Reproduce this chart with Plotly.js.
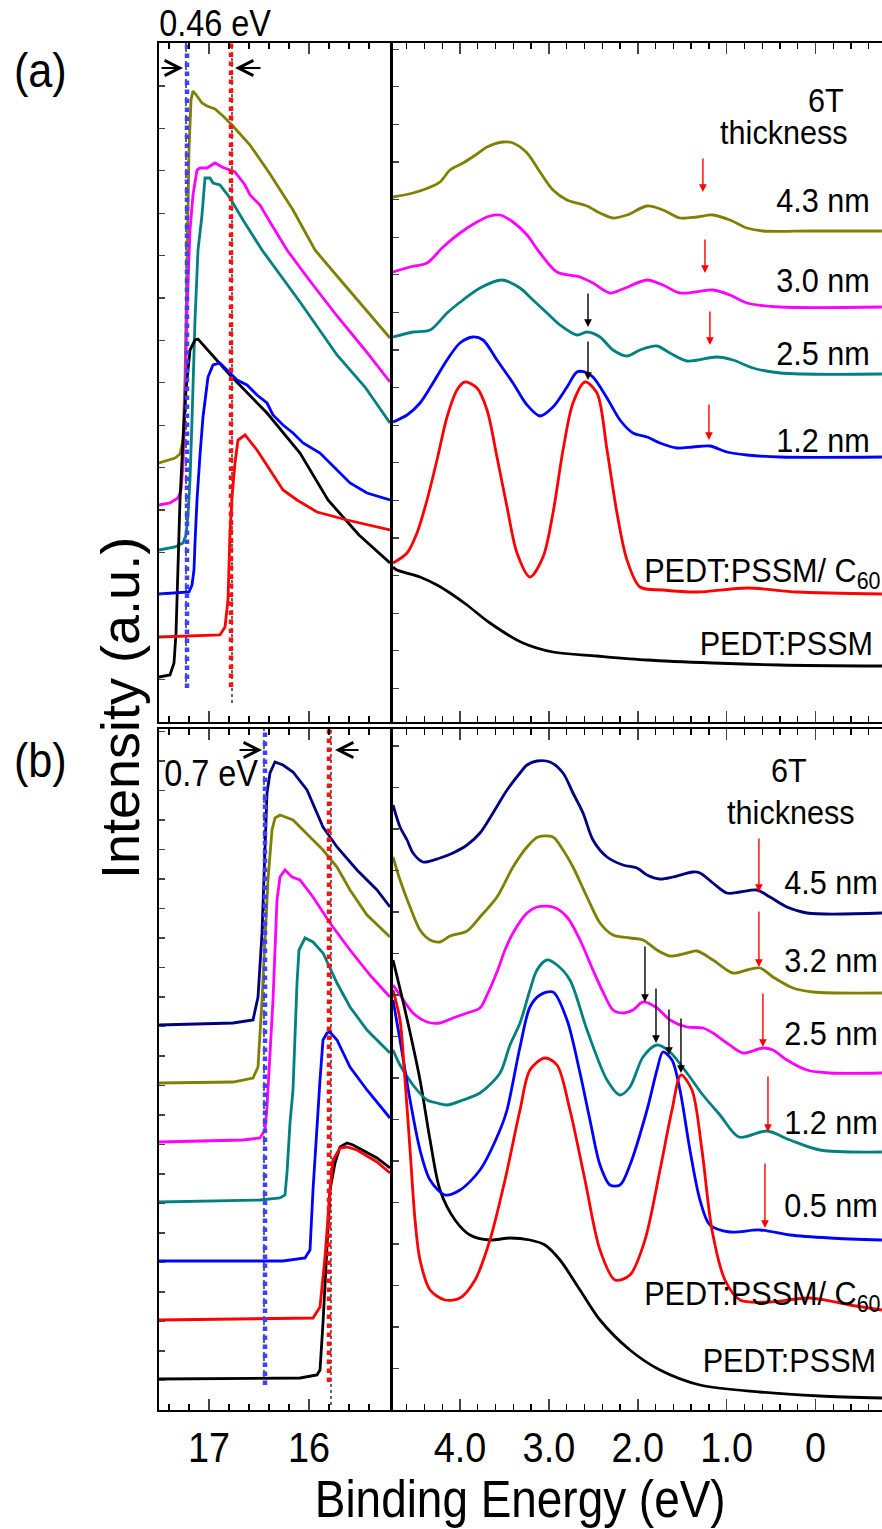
<!DOCTYPE html>
<html><head><meta charset="utf-8">
<script src="https://cdn.plot.ly/plotly-3.0.1.min.js"></script>
<style>html,body{margin:0;padding:0;background:#fff}#g{width:882px;height:1529px}</style>
</head><body><div id="g"></div>
<script>
// ---------- DATA: [binding energy (eV), intensity (a.u.)] ----------
// (a) secondary electron cut-off
const a_seco_olive = [[17.5,259],[17.34,264],[17.29,268],[17.26,282],[17.24,342],[17.22,472],[17.2,572],[17.18,622],[17.16,631],[17.12,626],[17.07,619],[17.02,616],[16.94,613],[16.86,606],[16.77,597],[16.59,577],[16.39,548],[16.16,512],[15.94,472],[15.72,446],[15.49,419],[15.19,384]];
const a_seco_magenta = [[17.5,217],[17.39,219],[17.31,224],[17.28,232],[17.26,257],[17.24,322],[17.22,412],[17.19,492],[17.16,527],[17.12,552],[17.09,554],[17.02,554],[16.94,559],[16.87,555],[16.74,550],[16.64,537],[16.59,527],[16.49,517],[16.39,500],[16.22,472],[15.99,441],[15.72,406],[15.44,372],[15.19,340]];
const a_seco_teal = [[17.5,172],[17.34,175],[17.26,179],[17.23,187],[17.21,207],[17.19,242],[17.17,302],[17.14,402],[17.11,472],[17.07,507],[17.04,544],[16.99,544],[16.96,539],[16.89,537],[16.79,524],[16.66,502],[16.47,472],[16.09,420],[15.72,367],[15.44,335],[15.19,299]];
const a_seco_blue = [[17.5,128],[17.34,129],[17.2,130],[17.17,137],[17.15,152],[17.14,179],[17.12,222],[17.09,267],[17.06,305],[17.01,345],[16.96,357],[16.89,359],[16.82,352],[16.72,342],[16.62,337],[16.52,327],[16.42,319],[16.36,307],[16.26,297],[16.16,289],[16.06,279],[15.89,269],[15.72,252],[15.59,239],[15.42,229],[15.26,224],[15.19,222]];
const a_seco_black = [[17.5,45],[17.39,47],[17.35,59],[17.33,89],[17.31,155],[17.29,222],[17.26,282],[17.23,332],[17.19,372],[17.14,382],[17.11,383],[16.79,347],[16.42,309],[16.09,269],[15.81,222],[15.5,187],[15.19,159]];
const a_seco_red = [[17.5,85],[17.09,86],[16.89,87],[16.84,95],[16.81,122],[16.79,189],[16.77,225],[16.74,259],[16.71,282],[16.64,287],[16.52,272],[16.39,252],[16.26,232],[16.12,222],[15.92,210],[15.62,202],[15.19,192]];
// (a) valence band
const a_vb_olive = [[4.754,525],[4.529,529],[4.36,534],[4.225,540],[4.112,552],[3.966,559],[3.809,568],[3.696,575],[3.516,580],[3.404,579],[3.246,569],[3.1,550],[2.954,532],[2.796,522],[2.571,516],[2.425,509],[2.279,504],[2.121,507],[1.896,516],[1.717,512],[1.525,504],[1.334,505],[1.154,507],[0.963,502],[0.772,494],[0.592,491],[0.029,491],[-0.747,491]];
const a_vb_magenta = [[4.754,450],[4.562,455],[4.371,459],[4.191,475],[4.0,489],[3.809,500],[3.663,506],[3.55,507],[3.404,500],[3.246,487],[3.1,469],[2.909,450],[2.65,445],[2.504,439],[2.313,429],[2.166,433],[1.896,442],[1.717,437],[1.525,429],[1.154,432],[0.963,427],[0.772,419],[0.4,415],[-0.747,415]];
const a_vb_teal = [[4.754,385],[4.529,390],[4.337,392],[4.146,409],[3.966,422],[3.775,434],[3.528,442],[3.325,434],[3.179,422],[3.021,409],[2.875,397],[2.684,387],[2.571,390],[2.425,385],[2.279,372],[2.121,366],[1.975,372],[1.784,376],[1.638,369],[1.447,361],[1.109,365],[0.929,362],[0.704,354],[0.4,349],[-0.747,348]];
const a_vb_blue = [[4.754,300],[4.596,307],[4.45,319],[4.304,339],[4.146,362],[4.0,379],[3.854,385],[3.741,382],[3.584,362],[3.404,339],[3.246,317],[3.1,306],[2.954,315],[2.796,335],[2.684,350],[2.594,350],[2.504,345],[2.346,324],[2.2,302],[2.054,289],[1.896,285],[1.75,279],[1.559,274],[1.379,275],[1.188,276],[0.997,270],[0.772,267],[0.4,265],[-0.747,265]];
const a_vb_red = [[4.754,159],[4.596,169],[4.484,189],[4.371,222],[4.259,262],[4.146,305],[4.034,332],[3.944,340],[3.809,334],[3.696,312],[3.584,265],[3.471,215],[3.359,169],[3.213,145],[3.066,165],[2.954,209],[2.841,272],[2.729,319],[2.594,340],[2.459,329],[2.346,272],[2.234,209],[2.121,162],[1.975,135],[1.717,132],[1.334,130],[0.772,134],[0.209,130],[-0.747,128]];
const a_vb_black = [[4.754,155],[4.709,152],[4.45,145],[4.259,137],[4.112,129],[3.921,117],[3.663,99],[3.291,79],[2.954,70],[2.459,66],[1.896,62],[1.154,59],[0.4,57],[-0.747,56]];
// (b) secondary electron cut-off
const b_seco_navy = [[17.5,385],[16.76,387],[16.56,390],[16.51,413],[16.47,477],[16.45,530],[16.42,617],[16.39,637],[16.34,648],[16.26,645],[16.16,638],[16.02,620],[15.86,583],[15.72,563],[15.52,540],[15.32,520],[15.19,503]];
const b_seco_olive = [[17.5,327],[16.76,328],[16.56,332],[16.51,343],[16.47,410],[16.44,477],[16.41,530],[16.37,580],[16.34,592],[16.29,595],[16.24,593],[16.16,590],[15.99,573],[15.86,560],[15.72,543],[15.59,520],[15.42,495],[15.19,473]];
const b_seco_magenta = [[17.5,268],[16.66,270],[16.49,272],[16.44,280],[16.42,303],[16.39,360],[16.36,410],[16.32,510],[16.29,533],[16.24,540],[16.17,533],[16.09,530],[15.96,513],[15.79,487],[15.59,460],[15.39,435],[15.19,413]];
const b_seco_teal = [[17.5,208],[16.49,210],[16.29,212],[16.24,215],[16.22,237],[16.19,287],[16.16,320],[16.12,427],[16.1,460],[16.04,472],[15.96,468],[15.86,457],[15.72,427],[15.59,403],[15.42,380],[15.19,357]];
const b_seco_blue = [[17.5,149],[16.26,149],[16.04,152],[15.99,160],[15.96,220],[15.92,290],[15.89,330],[15.86,370],[15.82,377],[15.79,378],[15.72,370],[15.59,343],[15.42,320],[15.19,292]];
const b_seco_red = [[17.5,90],[15.96,92],[15.89,103],[15.84,153],[15.79,220],[15.76,250],[15.69,262],[15.62,263],[15.52,260],[15.32,248],[15.19,237]];
const b_seco_black = [[17.5,31],[16.09,32],[15.92,35],[15.89,40],[15.86,87],[15.82,170],[15.79,220],[15.74,247],[15.69,263],[15.62,267],[15.56,265],[15.32,252],[15.19,242]];
// (b) valence band
const b_vb_navy = [[4.754,605],[4.675,583],[4.596,570],[4.529,557],[4.416,548],[4.225,552],[4.079,557],[3.921,565],[3.775,577],[3.629,597],[3.471,620],[3.325,637],[3.246,645],[3.134,649],[2.988,648],[2.841,637],[2.729,617],[2.616,597],[2.504,570],[2.346,553],[2.166,545],[2.009,542],[1.896,535],[1.75,531],[1.604,533],[1.379,538],[1.3,537],[1.154,527],[0.997,517],[0.85,518],[0.659,520],[0.513,513],[0.322,503],[0.097,497],[-0.747,497]];
const b_vb_olive = [[4.754,553],[4.675,530],[4.562,503],[4.45,480],[4.337,470],[4.225,468],[4.112,474],[3.921,479],[3.775,493],[3.584,513],[3.404,543],[3.246,563],[3.123,573],[2.954,573],[2.841,560],[2.729,543],[2.571,513],[2.425,487],[2.279,475],[2.088,472],[1.941,470],[1.784,460],[1.638,454],[1.447,457],[1.334,459],[1.154,450],[0.929,437],[0.772,440],[0.625,442],[0.479,433],[0.254,422],[0.029,418],[-0.747,417]];
const b_vb_magenta = [[4.754,425],[4.675,415],[4.529,397],[4.371,388],[4.225,387],[4.079,392],[3.921,397],[3.775,402],[3.696,415],[3.584,438],[3.494,460],[3.404,477],[3.246,497],[3.134,503],[2.954,503],[2.796,493],[2.65,470],[2.504,440],[2.391,418],[2.279,400],[2.166,397],[2.054,400],[1.941,408],[1.784,402],[1.638,390],[1.447,383],[1.267,382],[1.154,377],[0.997,367],[0.817,357],[0.592,362],[0.479,360],[0.322,350],[0.097,340],[-0.162,337],[-0.747,337]];
const b_vb_teal = [[4.754,360],[4.675,345],[4.529,325],[4.371,310],[4.259,307],[4.146,305],[3.966,310],[3.775,317],[3.55,337],[3.438,365],[3.325,387],[3.213,420],[3.134,440],[3.021,450],[2.909,445],[2.763,430],[2.571,380],[2.346,330],[2.2,315],[2.088,323],[1.941,353],[1.784,365],[1.638,358],[1.447,337],[1.267,315],[1.075,295],[0.862,273],[0.547,279],[0.288,270],[-0.05,260],[-0.747,258]];
const b_vb_blue = [[4.754,410],[4.675,370],[4.562,310],[4.45,260],[4.337,230],[4.169,215],[4.0,220],[3.775,240],[3.55,280],[3.471,300],[3.325,363],[3.213,403],[3.1,415],[2.954,418],[2.796,390],[2.65,337],[2.538,290],[2.425,245],[2.313,225],[2.2,225],[2.088,245],[1.896,300],[1.784,340],[1.717,358],[1.615,350],[1.525,320],[1.413,260],[1.3,210],[1.188,185],[0.963,178],[0.625,180],[0.288,175],[-0.162,172],[-0.747,170]];
const b_vb_red = [[4.754,420],[4.675,390],[4.619,330],[4.562,260],[4.506,190],[4.45,150],[4.337,120],[4.169,110],[4.0,112],[3.831,130],[3.663,170],[3.494,230],[3.325,300],[3.213,340],[3.044,352],[2.909,345],[2.763,300],[2.594,230],[2.425,160],[2.256,130],[2.088,135],[1.919,170],[1.75,240],[1.615,300],[1.514,335],[1.39,320],[1.278,260],[1.165,180],[1.019,130],[0.85,110],[0.513,108],[0.063,112],[-0.387,105],[-0.747,100]];
const b_vb_black = [[4.754,450],[4.619,400],[4.45,330],[4.337,270],[4.225,220],[4.056,190],[3.888,175],[3.663,170],[3.438,172],[3.213,170],[3.044,165],[2.875,150],[2.65,120],[2.425,90],[2.088,60],[1.75,40],[1.3,25],[0.625,18],[-0.05,14],[-0.747,12]];
// cut-off guide lines [energy, from, to]
const a_cutoff_lines = [[17.22,34,679],[16.78,35,679]];
const b_cutoff_lines = [[16.44,25,681],[15.80,28,681]];
// arrows: [energy, head intensity, tail intensity]
const a_red_arrows = [[1.267,530,565],[1.244,449,484],[1.188,377,412],[1.199,282,319]];
const a_black_arrows = [[2.56,395,430],[2.56,342,382]];
const b_red_arrows = [[0.637,518,573],[0.637,443,500],[0.592,363,418],[0.535,278,335],[0.569,182,248]];
const b_black_arrows = [[1.919,408,465],[1.795,367,423],[1.649,355,402],[1.514,337,393]];
// shift arrows: [tail energy, head energy, intensity]
const a_shift_arrows = [[17.49,17.26,654],[16.47,16.74,654]];
const b_shift_arrows = [[16.71,16.47,660],[15.49,15.74,660]];
// labels
const a_labels = ['4.3 nm','3.0 nm','2.5 nm','1.2 nm'];
const b_labels = ['4.5 nm','3.2 nm','2.5 nm','1.2 nm','0.5 nm'];
const leftTicks = [17,16], leftTickText = ['17','16'];
const rightTicks = [4,3,2,1,0], rightTickText = ['4.0','3.0','2.0','1.0','0'];

// ---------- LAYOUT ----------
const FONT = 'Liberation Sans, Arial, sans-serif';
const W=882,H=1529,L=159,T=43,R=0,B=119, PW=W-L-R, PH=H-T-B;
const PX = p => (p-L)/PW, PY = p => (H-B-p)/PH;
const C = {olive:'#808000', magenta:'#ff00ff', teal:'#008080', blue:'#0000ff', red:'#ff0000', black:'#000000', navy:'#000080'};

const traces=[];
function add(pairs,color,xa,ya,smooth){
  traces.push({x:pairs.map(p=>p[0]),y:pairs.map(p=>p[1]),mode:'lines',xaxis:xa,yaxis:ya,
    line:{color:color,width:2.8,shape:smooth?'spline':'linear',smoothing:0.85},hoverinfo:'skip',showlegend:false});
}
function vline(l,color,xa,ya,w,dash){
  traces.push({x:[l[0],l[0]],y:[l[1],l[2]],mode:'lines',xaxis:xa,yaxis:ya,line:{color:color,width:w,dash:dash},hoverinfo:'skip',showlegend:false});
}
vline([a_cutoff_lines[0][0]+0.01,a_cutoff_lines[0][1],a_cutoff_lines[0][2]],'#000','x','y',1.2,'dot');
vline([a_cutoff_lines[1][0]-0.01,19,a_cutoff_lines[1][2]],'#000','x','y',1.2,'dot');
vline([b_cutoff_lines[0][0]+0.01,b_cutoff_lines[0][1],b_cutoff_lines[0][2]],'#000','x3','y3',1.2,'dot');
vline([b_cutoff_lines[1][0]-0.02,5,b_cutoff_lines[1][2]],'#000','x3','y3',1.2,'dot');

add(a_seco_olive,C.olive,'x','y');add(a_seco_magenta,C.magenta,'x','y');add(a_seco_teal,C.teal,'x','y');
add(a_seco_black,C.black,'x','y');add(a_seco_blue,C.blue,'x','y');add(a_seco_red,C.red,'x','y');
add(a_vb_olive,C.olive,'x2','y2',1);add(a_vb_magenta,C.magenta,'x2','y2',1);add(a_vb_teal,C.teal,'x2','y2',1);
add(a_vb_blue,C.blue,'x2','y2',1);add(a_vb_red,C.red,'x2','y2',1);add(a_vb_black,C.black,'x2','y2',1);
add(b_seco_navy,C.navy,'x3','y3');add(b_seco_olive,C.olive,'x3','y3');add(b_seco_magenta,C.magenta,'x3','y3');
add(b_seco_teal,C.teal,'x3','y3');add(b_seco_blue,C.blue,'x3','y3');add(b_seco_black,C.black,'x3','y3');add(b_seco_red,C.red,'x3','y3');
add(b_vb_navy,C.navy,'x4','y4',1);add(b_vb_olive,C.olive,'x4','y4',1);add(b_vb_magenta,C.magenta,'x4','y4',1);
add(b_vb_black,C.black,'x4','y4',1);add(b_vb_teal,C.teal,'x4','y4',1);add(b_vb_blue,C.blue,'x4','y4',1);add(b_vb_red,C.red,'x4','y4',1);

vline(a_cutoff_lines[0],'#4040ff','x','y',4.5,'dot');
vline(a_cutoff_lines[1],'#ff1010','x','y',4.5,'dot');
vline(b_cutoff_lines[0],'#4040ff','x3','y3',4.5,'dot');
vline(b_cutoff_lines[1],'#ff1010','x3','y3',4.5,'dot');

const ann=[];
function arrows(list,color,xa,ya,w,head,size){
  list.forEach(a=>ann.push({x:a[0],y:a[1],ax:a[0],ay:a[2],xref:xa,yref:ya,axref:xa,ayref:ya,text:'',showarrow:true,
    arrowcolor:color,arrowwidth:w,arrowhead:head,arrowsize:size}));
}
arrows(a_red_arrows,C.red,'x2','y2',1.4,2,1.1);
arrows(a_black_arrows,C.black,'x2','y2',1.4,2,1.1);
arrows(b_red_arrows,C.red,'x4','y4',1.4,2,1.1);
arrows(b_black_arrows,C.black,'x4','y4',1.4,2,1.1);
function shift(list,xa,ya){
  list.forEach(a=>ann.push({x:a[1],y:a[2],ax:a[0],ay:a[2],xref:xa,yref:ya,axref:xa,ayref:ya,text:'',showarrow:true,
    arrowcolor:'#000',arrowwidth:2.2,arrowhead:5,arrowsize:1.35}));
}
shift(a_shift_arrows,'x','y'); shift(b_shift_arrows,'x3','y3');

function txt(t,x,y,size){
  ann.push({text:t,x:PX(x),y:PY(y),xref:'paper',yref:'paper',xanchor:'center',yanchor:'middle',showarrow:false,
    font:{family:FONT,size:size,color:'#000'}});
}
const LS=34;
txt('(a)',40,70,48); txt('(b)',40,760,48);
txt('0.46 eV',215,24,36); txt('0.7 eV',211,773,36);
txt('6T',826,100,LS); txt('thickness',784,132,LS);
const aY=[200,280,353,440]; a_labels.forEach((t,i)=>txt(t,823,aY[i],LS));
txt('PEDT:PSSM/ C<sub>60</sub>',762,572,LS); txt('PEDT:PSSM',786,643,LS);
txt('6T',789,770,LS); txt('thickness',791,812,LS);
const bY=[882,960,1033,1122,1205]; b_labels.forEach((t,i)=>txt(t,831,bY[i],LS));
txt('PEDT:PSSM/ C<sub>60</sub>',762,1295,LS); txt('PEDT:PSSM',789,1360,LS);
txt('Binding Energy (eV)',520,1500,51);
ann.push({text:'Intensity (a.u.)',x:PX(120),y:PY(708),xref:'paper',yref:'paper',xanchor:'center',yanchor:'middle',
  textangle:-90,showarrow:false,font:{family:FONT,size:54,color:'#000'}});

const xl=0.3195, xr=(393-L)/PW, ytop=PY(722), ybot=PY(729);
function xax(dom,range,tv,tt,labels,anchor){
  return {domain:dom,range:range,anchor:anchor,tickvals:tv,ticktext:tt,showticklabels:labels,ticks:'inside',ticklen:11,tickwidth:1.6,
    minor:{dtick:0.2,tick0:0,ticks:'inside',ticklen:6,tickwidth:1.3,tickcolor:'#000'},
    tickfont:{family:FONT,size:42,color:'#000'},showline:true,linewidth:2,linecolor:'#000',mirror:'ticks',showgrid:false,zeroline:false,fixedrange:true};
}
function yax(dom,range,anchor,dt,t0,mir){
  return {domain:dom,range:range,anchor:anchor,showticklabels:false,ticks:'inside',ticklen:6,tickwidth:1.3,dtick:dt,tick0:t0,
    showline:true,linewidth:2,linecolor:'#000',mirror:mir,showgrid:false,zeroline:false,fixedrange:true};
}
const layout={width:W,height:H,margin:{l:L,r:R,t:T,b:B},paper_bgcolor:'#fff',plot_bgcolor:'rgba(0,0,0,0)',showlegend:false,
  font:{family:FONT,color:'#000'},
  xaxis:xax([0,xl],[17.5,15.19],leftTicks,leftTickText,false,'y'),
  yaxis:yax([ytop,1],[0,679],'x',42.4,0,true),
  xaxis2:xax([xr,1],[4.754,-0.748],rightTicks,rightTickText,false,'y2'),
  yaxis2:yax([ytop,1],[0,679],'x2',37.6,-4,false),
  xaxis3:xax([0,xl],[17.5,15.19],leftTicks,leftTickText,true,'y3'),
  yaxis3:yax([0,ybot],[0,681],'x3',29.5,0,true),
  xaxis4:xax([xr,1],[4.754,-0.748],rightTicks,rightTickText,true,'y4'),
  yaxis4:yax([0,ybot],[0,681],'x4',41.5,0,false),
  annotations:ann};
Plotly.newPlot('g',traces,layout,{staticPlot:true,displayModeBar:false}).then(()=>{
  // condensed lettering like the original (narrow sans): compress glyph widths, keep text real
  document.querySelectorAll('#g text').forEach(el=>{
    if(!el.textContent || el.textContent.indexOf('Intensity')>=0) return;
    const len=el.getComputedTextLength();
    if(len>0){el.setAttribute('textLength',(len*0.9).toFixed(1));el.setAttribute('lengthAdjust','spacingAndGlyphs');}
  });
});
</script></body></html>
